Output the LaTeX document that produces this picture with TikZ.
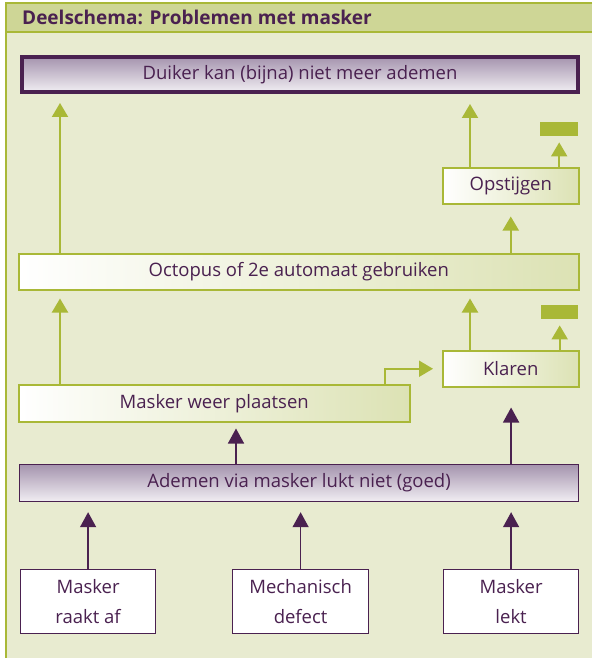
\documentclass[tikz,border=0pt]{standalone}
\usepackage{fontspec}
\setmainfont{Open Sans}
\usetikzlibrary{arrows.meta,calc}
\definecolor{gline}{HTML}{A9B837}
\definecolor{purp}{HTML}{4A2150}
\definecolor{hdr}{HTML}{CED696}
\definecolor{bodybg}{HTML}{E8EBD0}
\definecolor{gboxr}{HTML}{DCE2B4}
\definecolor{ptop}{HTML}{A594AE}
\definecolor{pbot}{HTML}{F1EEF3}
\begin{document}
\begin{tikzpicture}[x=1pt,y=-1pt,font=\fontsize{18.5}{22}\selectfont,
  gbox/.style={draw=gline, line width=1.5pt, left color=white, right color=gboxr, text=purp, anchor=north west, inner sep=0pt},
  pbox/.style={draw=purp, line width=1.2pt, top color=ptop, bottom color=pbot, text=purp, anchor=north west, inner sep=0pt},
  wbox/.style={draw=purp, line width=1.2pt, fill=white, text=purp, anchor=north west, inner sep=0pt, align=center, font=\fontsize{18.5}{30}\selectfont},
  bar/.style={fill=gline, anchor=north west, inner sep=0pt},
  garr/.style={draw=gline, line width=2pt, -{Triangle[width=16pt,length=14pt]}},
  parr/.style={draw=purp, line width=1.5pt, -{Triangle[width=16pt,length=15pt]}}]
\useasboundingbox (0,0) rectangle (592,658);
\fill[white] (0,0) rectangle (592,658);
\fill[bodybg] (6,32) rectangle (592,658);
\fill[hdr] (6,3) rectangle (592,32);
\draw[gline, line width=2pt] (592,3) -- (6,3) -- (6,658);
\draw[gline, line width=2pt] (6,32) -- (592,32);
\node[anchor=base west, font=\bfseries\fontsize{19}{22}\selectfont, text=purp, inner sep=0pt] (title) at (22,25) {Deelschema: Problemen met masker};

\node[pbox, line width=4pt, minimum width=556pt, minimum height=35pt] (duiker) at (20,55) {Duiker kan (bijna) niet meer ademen};
\node[gbox, minimum width=136pt, minimum height=36pt] (opst) at (442,167) {Opstijgen};
\node[bar, minimum width=38pt, minimum height=14pt] (bar1) at (540,122) {};
\node[gbox, minimum width=560pt, minimum height=36pt] (oct) at (18,253) {Octopus of 2e automaat gebruiken};
\node[bar, minimum width=37pt, minimum height=14pt] (bar2) at (541,305) {};
\node[gbox, minimum width=136pt, minimum height=36pt] (klaren) at (442,350) {Klaren};
\node[gbox, minimum width=391pt, minimum height=37pt] (masker) at (18,384) {Masker weer plaatsen};
\node[pbox, minimum width=559pt, minimum height=37pt] (ademen) at (19,464) {Ademen via masker lukt niet (goed)};
\node[wbox, minimum width=135pt, minimum height=64pt] (b1) at (20,569) {Masker\\raakt af};
\node[wbox, minimum width=136pt, minimum height=64pt] (b2) at (232,569) {Mechanisch\\defect};
\node[wbox, minimum width=135pt, minimum height=64pt] (b3) at (443,569) {Masker\\lekt};

\coordinate (xl) at (60,0);
\coordinate (xr) at (470,0);
\coordinate (xm) at (236,0);
\coordinate (bend) at (385,368);

\draw[garr, shorten >=9pt] (oct.north -| xl) -- (duiker.south -| xl);
\draw[garr, shorten >=10pt] (opst.north -| xr) -- (duiker.south -| xr);
\draw[garr, shorten >=6pt] (opst.north -| bar1) -- (bar1.south);
\draw[garr, shorten >=12pt] (oct.north -| opst) -- (opst.south);
\draw[garr, shorten >=8pt] (masker.north -| xl) -- (oct.south -| xl);
\draw[garr, shorten >=8pt] (klaren.north -| xr) -- (oct.south -| xr);
\draw[garr, shorten >=6pt] (klaren.north -| bar2) -- (bar2.south);
\draw[garr, shorten >=9pt] (masker.north -| bend) |- (klaren.west);

\draw[parr, shorten >=6pt] (ademen.north -| xm) -- (masker.south -| xm);
\draw[parr, shorten >=20pt] (ademen.north -| b3) -- (klaren.south -| b3);
\draw[parr, shorten >=10pt] (b1.north) -- (ademen.south -| b1);
\draw[parr, shorten >=10pt] (b2.north) -- (ademen.south -| b2);
\draw[parr, shorten >=10pt] (b3.north) -- (ademen.south -| b3);
\end{tikzpicture}
\end{document}
